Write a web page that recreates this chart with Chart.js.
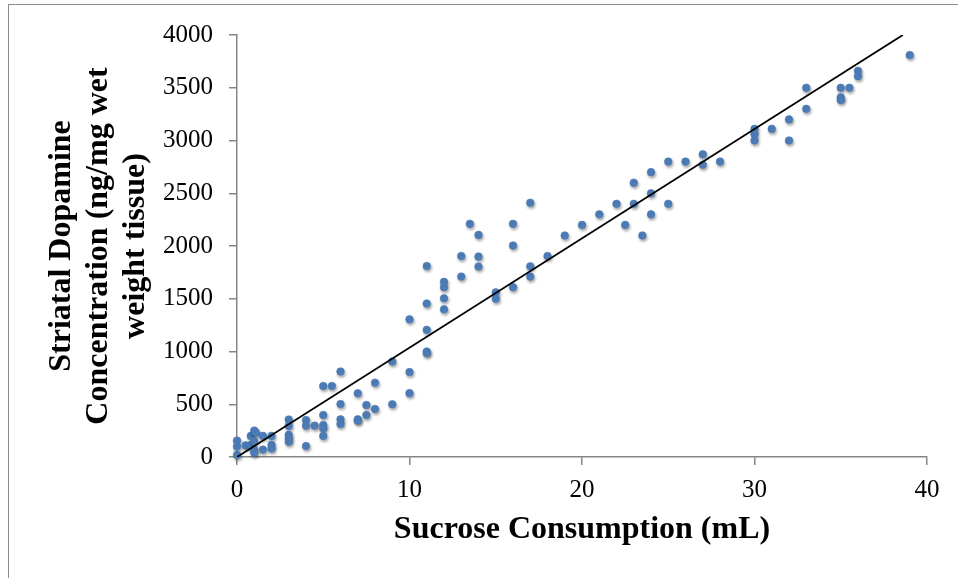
<!DOCTYPE html>
<html><head>
<meta charset="UTF-8">
<title>Striatal Dopamine vs Sucrose Consumption</title>
<style>
  body, html { margin: 0; padding: 0; background: #fff; }
  .wrap { position: relative; width: 958px; height: 578px; overflow: hidden; }
  .frame { position: absolute; left: 8px; top: 4px; width: 960px; height: 590px; border: 1px solid #8c8c8c; }
  canvas { position: absolute; left: 0; top: 0; }
</style>
<script src="https://cdn.jsdelivr.net/npm/chart.js@4/dist/chart.umd.min.js"></script>
</head>
<body>
<div class="wrap">
  <div class="frame"></div>
  <canvas id="chart" width="958" height="578"></canvas>
</div>
<script>
// values
const sucrose = [
  0, 0, 0, 0.5, 0.75, 0.8, 1, 1.1, 1, 1, 1, 1.5, 1.5, 2, 2, 2,
  3, 3, 3, 3, 3, 4, 4, 4, 4.5, 5, 5, 5, 5, 5, 5.5,
  6, 6, 6, 6, 7, 7, 7, 7.5, 7.5, 8, 8, 9, 9,
  10, 10, 10, 11, 11, 11, 11, 11, 12, 12, 12, 12,
  13, 13, 13.5, 14, 14, 14, 15, 15, 16, 16, 16, 17, 17, 17, 18,
  19, 20, 21, 22, 22.5, 23, 23, 23.5, 24, 24, 24, 25, 25, 26, 27, 27, 28,
  30, 30, 30, 31, 32, 32, 33, 33, 35, 35, 35, 35.5, 36, 36, 39
];
const dopamine = [
  155, 100, 20, 110, 110, 200, 250, 230, 150, 70, 40, 200, 70, 200, 115, 80,
  355, 295, 210, 175, 145, 350, 297, 104, 297, 673, 398, 303, 272, 200, 673,
  810, 502, 357, 313, 604, 357, 345, 493, 398, 704, 455, 905, 500,
  1305, 805, 605, 1810, 1455, 1205, 1000, 985, 1660, 1610, 1505, 1400,
  1905, 1710, 2210, 2105, 1900, 1805, 1560, 1500, 2210, 2005, 1610, 2410, 1807, 1710, 1905,
  2100, 2200, 2300, 2400, 2200, 2600, 2400, 2100, 2700, 2500, 2300, 2800, 2400, 2800, 2870, 2770, 2800,
  3110, 3060, 3000, 3110, 3200, 3000, 3500, 3300, 3500, 3410, 3385, 3500, 3660, 3610, 3810
];
// trend line ends
const trendX = [0, 38.6];
const trendY = [0, 4000];

const xTicks = [0, 10, 20, 30, 40];
const yTicks = [0, 500, 1000, 1500, 2000, 2500, 3000, 3500, 4000];

const serif = "'Liberation Serif', 'Times New Roman', serif";
const axisGrey = '#868686';

// soft drop shadow under the markers, like the office chart
const markerShadow = {
  id: 'markerShadow',
  beforeDatasetDraw(chart, args) {
    if (args.index !== 1) return;
    const ctx = chart.ctx;
    ctx.save();
    ctx.shadowColor = 'rgba(0,0,0,0.35)';
    ctx.shadowBlur = 3;
    ctx.shadowOffsetX = 1;
    ctx.shadowOffsetY = 2;
  },
  afterDatasetDraw(chart, args) {
    if (args.index !== 1) return;
    chart.ctx.restore();
  }
};

new Chart(document.getElementById('chart'), {
  type: 'scatter',
  data: {
    datasets: [{
      type: 'line',
      data: trendX.map((x, i) => ({ x: x, y: trendY[i] })),
      borderColor: '#000',
      borderWidth: 1.8,
      pointRadius: 0,
      fill: false,
      order: 1
    }, {
      data: sucrose.map((x, i) => ({ x: x, y: dopamine[i] })),
      pointRadius: 3.8,
      pointBackgroundColor: '#4f81bd',
      pointBorderColor: '#4677b3',
      pointBorderWidth: 0.6,
      clip: false,
      order: 2
    }]
  },
  options: {
    responsive: false,
    animation: false,
    layout: { padding: { top: 35, right: 31, left: 0, bottom: 0 } },
    plugins: { legend: { display: false }, tooltip: { enabled: false } },
    scales: {
      x: {
        type: 'linear',
        min: 0, max: 40,
        afterBuildTicks: s => { s.ticks = xTicks.map(v => ({ value: v })); },
        afterFit: s => { s.height = 121; },
        border: { color: axisGrey, width: 1.5 },
        grid: { drawOnChartArea: false, drawTicks: true, tickLength: 8, color: axisGrey, lineWidth: 1.5 },
        ticks: { color: '#000', padding: 10, font: { family: serif, size: 25 }, callback: v => String(v) },
        title: {
          display: true,
          text: 'Sucrose Consumption (mL)',
          color: '#000',
          font: { family: serif, size: 32, weight: 'bold', lineHeight: 1.15 },
          padding: { top: 0, bottom: 30 }
        }
      },
      y: {
        type: 'linear',
        min: 0, max: 4000,
        afterBuildTicks: s => { s.ticks = yTicks.map(v => ({ value: v })); },
        afterFit: s => { s.width = 237; },
        border: { color: axisGrey, width: 1.5 },
        grid: { drawOnChartArea: false, drawTicks: true, tickLength: 8, color: axisGrey, lineWidth: 1.5 },
        ticks: { color: '#000', padding: 16, font: { family: serif, size: 25 }, callback: v => String(v) },
        title: {
          display: true,
          text: ['Striatal Dopamine', 'Concentration (ng/mg wet', 'weight tissue)'],
          color: '#000',
          font: { family: serif, size: 32, weight: 'bold', lineHeight: 1.156 },
          padding: { top: 43, bottom: 0 }
        }
      }
    }
  },
  plugins: [markerShadow]
});
</script>
</body></html>
